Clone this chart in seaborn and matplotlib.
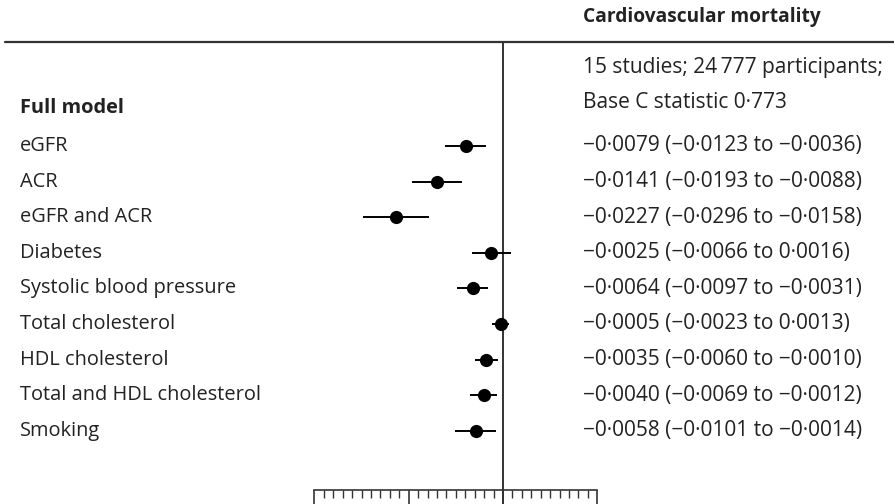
import numpy as np
import pandas as pd
import seaborn as sns
import matplotlib.pyplot as plt
from matplotlib.lines import Line2D
from matplotlib.ticker import MultipleLocator
from matplotlib.transforms import blended_transform_factory

factors = ['eGFR', 'ACR', 'eGFR and ACR', 'Diabetes', 'Systolic blood pressure',
           'Total cholesterol', 'HDL cholesterol', 'Total and HDL cholesterol', 'Smoking']
estimate = [-0.0079, -0.0141, -0.0227, -0.0025, -0.0064, -0.0005, -0.0035, -0.0040, -0.0058]
ci_low = [-0.0123, -0.0193, -0.0296, -0.0066, -0.0097, -0.0023, -0.0060, -0.0069, -0.0101]
ci_high = [-0.0036, -0.0088, -0.0158, 0.0016, -0.0031, 0.0013, -0.0010, -0.0012, -0.0014]
value_labels = ['\u22120\u00b70079 (\u22120\u00b70123 to \u22120\u00b70036)',
                '\u22120\u00b70141 (\u22120\u00b70193 to \u22120\u00b70088)',
                '\u22120\u00b70227 (\u22120\u00b70296 to \u22120\u00b70158)',
                '\u22120\u00b70025 (\u22120\u00b70066 to 0\u00b70016)',
                '\u22120\u00b70064 (\u22120\u00b70097 to \u22120\u00b70031)',
                '\u22120\u00b70005 (\u22120\u00b70023 to 0\u00b70013)',
                '\u22120\u00b70035 (\u22120\u00b70060 to \u22120\u00b70010)',
                '\u22120\u00b70040 (\u22120\u00b70069 to \u22120\u00b70012)',
                '\u22120\u00b70058 (\u22120\u00b70101 to \u22120\u00b70014)']

df = pd.DataFrame({'factor': factors, 'est': estimate, 'lo': ci_low, 'hi': ci_high})
df['row'] = np.arange(len(df))

sns.set_style('white')
plt.rcParams['font.family'] = ['Open Sans', 'DejaVu Sans']
txt = '#222222'

W, H = 894, 504
fig = plt.figure(figsize=(W / 100, H / 100), dpi=100)
x0, x1 = 314.4, 597.3      # pixel positions of -0.04 and 0.02
y_top, y_axis = 42, 490
ax = fig.add_axes([x0 / W, (H - y_axis) / H, (x1 - x0) / W, (y_axis - y_top) / H])

# confidence intervals and point estimates
ax.hlines(df['row'], df['lo'], df['hi'], color='black', lw=1.4, zorder=2)
sns.scatterplot(data=df, x='est', y='row', ax=ax, color='black', s=90,
                edgecolor='black', linewidth=0, zorder=3, legend=False)

ax.axvline(0, color='#333333', lw=1.4, ymin=-0.1, clip_on=False, zorder=1)

ax.set_xlim(-0.04, 0.02)
row_px = 35.6
first_px = 146
ax.set_ylim((y_axis - first_px) / row_px, (y_top - first_px) / row_px)

for s in ['top', 'right', 'left']:
    ax.spines[s].set_visible(False)
ax.spines['bottom'].set_color('#333333')
ax.spines['bottom'].set_linewidth(1.2)
ax.set_yticks([])
ax.xaxis.set_major_locator(MultipleLocator(0.02))
ax.xaxis.set_minor_locator(MultipleLocator(0.002))
ax.tick_params(axis='x', which='major', bottom=True, length=16, width=1.2,
               color='#333333', labelbottom=False)
ax.tick_params(axis='x', which='minor', bottom=True, length=6, width=1.0, color='#333333')
ax.set_xlabel('')
ax.set_ylabel('')

# header rule
fig.add_artist(Line2D([5 / W, 1], [(H - y_top) / H] * 2, color='#333333', lw=1.6))

tr = blended_transform_factory(fig.transFigure, ax.transData)
fs_left = 14.4
fs_right = 15.0
ax.text(583 / W, (H - 17) / H, 'Cardiovascular mortality', transform=fig.transFigure,
        fontsize=13.8, fontweight='bold', color=txt, va='center', ha='left')
ax.text(583 / W, (67 - first_px) / row_px, '15 studies; 24\u2009777 participants;',
        transform=tr, fontsize=fs_right, color=txt, va='center', ha='left', clip_on=False)
ax.text(583 / W, (102 - first_px) / row_px, 'Base C statistic 0\u00b7773',
        transform=tr, fontsize=fs_right, color=txt, va='center', ha='left', clip_on=False)
ax.text(20 / W, (108 - first_px) / row_px, 'Full model', transform=tr, fontsize=fs_left,
        fontweight='bold', color=txt, va='center', ha='left', clip_on=False)

for i, (name, lab) in enumerate(zip(factors, value_labels)):
    ax.text(20 / W, i, name, transform=tr, fontsize=fs_left, color=txt,
            va='center', ha='left', clip_on=False)
    ax.text(583 / W, i, lab, transform=tr, fontsize=fs_right, color=txt,
            va='center', ha='left', clip_on=False)

fig.savefig('out.png', dpi=100)
